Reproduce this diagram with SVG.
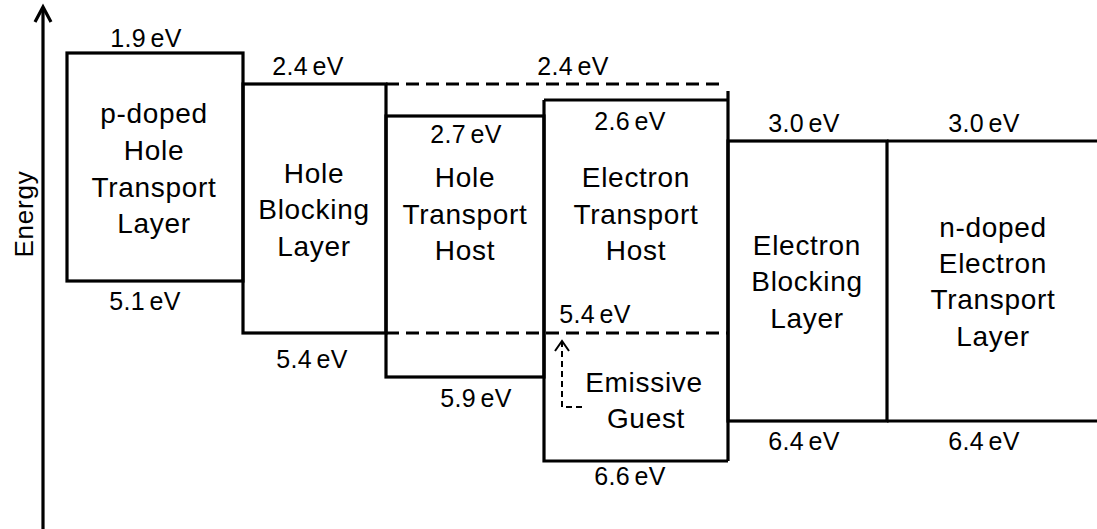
<svg xmlns="http://www.w3.org/2000/svg" width="1097" height="529" viewBox="0 0 1097 529">
<style>
.box{fill:none;stroke:#000;stroke-width:3.2}
.dash{fill:none;stroke:#000;stroke-width:3.2;stroke-dasharray:13 7}
.lbl{font-family:"Liberation Sans",Arial,sans-serif;font-size:28px;letter-spacing:0.7px;text-anchor:middle;fill:#000}
.ev{font-family:"Liberation Sans",Arial,sans-serif;font-size:25px;letter-spacing:0.4px;word-spacing:-3px;text-anchor:middle;fill:#000}
.conn{fill:none;stroke:#000;stroke-width:2}
</style>
<rect width="1097" height="529" fill="#fff"/>
<g id="axis">
<line x1="43" y1="529" x2="43" y2="7" stroke="#000" stroke-width="3.2"/>
<path d="M35,22 L43,7 L51,22" fill="none" stroke="#000" stroke-width="3.2"/>
<text class="lbl" transform="translate(33,214) rotate(-90)" style="font-size:26px;letter-spacing:0.8px">Energy</text>
</g>
<g id="p-htl">
<rect class="box" x="67" y="53" width="176" height="228"/>
<text class="ev" x="146" y="47">1.9 eV</text>
<text class="ev" x="145" y="310">5.1 eV</text>
<text class="lbl" x="154" y="123">p-doped</text>
<text class="lbl" x="154" y="160">Hole</text>
<text class="lbl" x="154" y="197">Transport</text>
<text class="lbl" x="154" y="233">Layer</text>
</g>
<g id="hbl">
<rect class="box" x="243" y="84" width="143" height="249"/>
<text class="ev" x="308" y="75">2.4 eV</text>
<text class="ev" x="312" y="368">5.4 eV</text>
<text class="lbl" x="314" y="183">Hole</text>
<text class="lbl" x="314" y="219">Blocking</text>
<text class="lbl" x="314" y="256">Layer</text>
</g>
<g id="hth">
<rect class="box" x="386" y="116" width="158" height="261"/>
<text class="ev" x="466" y="143">2.7 eV</text>
<text class="ev" x="476" y="407">5.9 eV</text>
<text class="lbl" x="465" y="187">Hole</text>
<text class="lbl" x="465" y="224">Transport</text>
<text class="lbl" x="465" y="260">Host</text>
</g>
<g id="eth">
<path class="box" d="M544,100 H728 M544,100 V461 H728 M728,91 V461"/>
<line class="dash" x1="386" y1="84" x2="724" y2="84"/>
<line class="dash" x1="386" y1="333" x2="728" y2="333"/>
<text class="ev" x="573" y="75">2.4 eV</text>
<text class="ev" x="630" y="130">2.6 eV</text>
<text class="ev" x="595" y="323">5.4 eV</text>
<text class="ev" x="630" y="485">6.6 eV</text>
<text class="lbl" x="636" y="187">Electron</text>
<text class="lbl" x="636" y="224">Transport</text>
<text class="lbl" x="636" y="260">Host</text>
</g>
<g id="guest">
<text class="lbl" x="644" y="392">Emissive</text>
<text class="lbl" x="646" y="428">Guest</text>
</g>
<g id="ebl">
<rect class="box" x="728" y="141" width="159" height="280"/>
<text class="ev" x="804" y="132">3.0 eV</text>
<text class="ev" x="804" y="450">6.4 eV</text>
<text class="lbl" x="807" y="255">Electron</text>
<text class="lbl" x="807" y="291">Blocking</text>
<text class="lbl" x="807" y="328">Layer</text>
</g>
<g id="n-etl">
<path class="box" d="M887,141 H1097 M887,421 H1097"/>
<text class="ev" x="984" y="132">3.0 eV</text>
<text class="ev" x="984" y="450">6.4 eV</text>
<text class="lbl" x="993" y="237">n-doped</text>
<text class="lbl" x="993" y="273">Electron</text>
<text class="lbl" x="993" y="309">Transport</text>
<text class="lbl" x="993" y="346">Layer</text>
</g>
<g id="connectors">
<path class="conn" d="M582,407 H562 V342" stroke-dasharray="6 4"/>
<path class="conn" d="M555,351 L562,341 L569,351"/>
</g>
</svg>
